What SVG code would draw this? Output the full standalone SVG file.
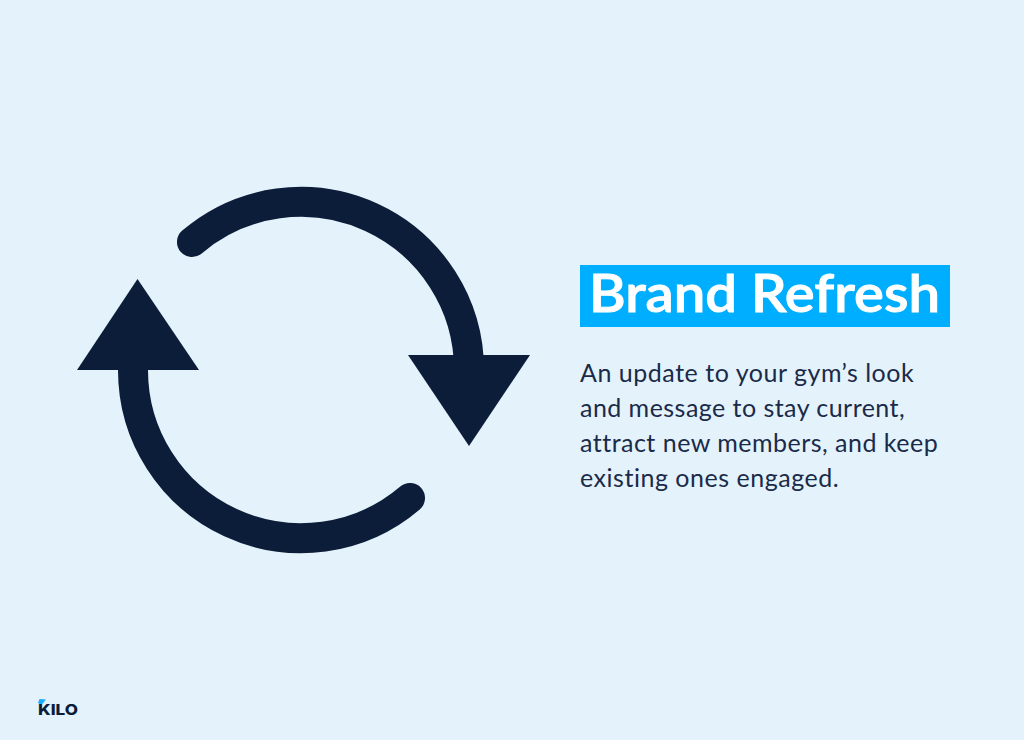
<svg xmlns="http://www.w3.org/2000/svg" width="1024" height="740" viewBox="0 0 1024 740">
<style>
.arc{fill:none;stroke:#0b1d38;stroke-width:30;stroke-linecap:round}
.head{fill:#0b1d38}
.body{font-family:"Lato","Noto Sans",sans-serif;font-size:25px;fill:#1a2b4a;letter-spacing:0.3px}
</style>
<rect width="1024" height="740" fill="#e4f2fb"/>
<g id="connectors">
<path class="arc" d="M192 242 A168 168 0 0 1 469 370"/>
<path class="arc" d="M410 498 A168 168 0 0 1 133 370"/>
<polygon class="head" points="408,355 530,355 469,446"/>
<polygon class="head" points="77,370 199,370 137.500,279"/>
</g>
<g id="title">
<rect x="580" y="265" width="370" height="62" fill="#00aeff"/>
<text x="589" y="312" font-family="Lato,sans-serif" font-size="51" font-weight="600" fill="#fff" stroke="#fff" stroke-width="0.9" textLength="351" lengthAdjust="spacingAndGlyphs">Brand Refresh</text>
</g>
<g id="description">
<text class="body" x="580" y="382" textLength="334">An update to your gym’s look</text>
<text class="body" x="580" y="417" textLength="325">and message to stay current,</text>
<text class="body" x="580" y="452" textLength="358">attract new members, and keep</text>
<text class="body" x="580" y="487" textLength="259">existing ones engaged.</text>
</g>
<g id="logo">
<polygon points="39.500,699 46,699.500 41.500,705 38,703" fill="#19aeff"/>
<text x="38" y="714.500" font-family="Inter,sans-serif" font-size="14.500" font-weight="800" fill="#0b1d38" textLength="40" lengthAdjust="spacingAndGlyphs">KILO</text>
</g>
</svg>
